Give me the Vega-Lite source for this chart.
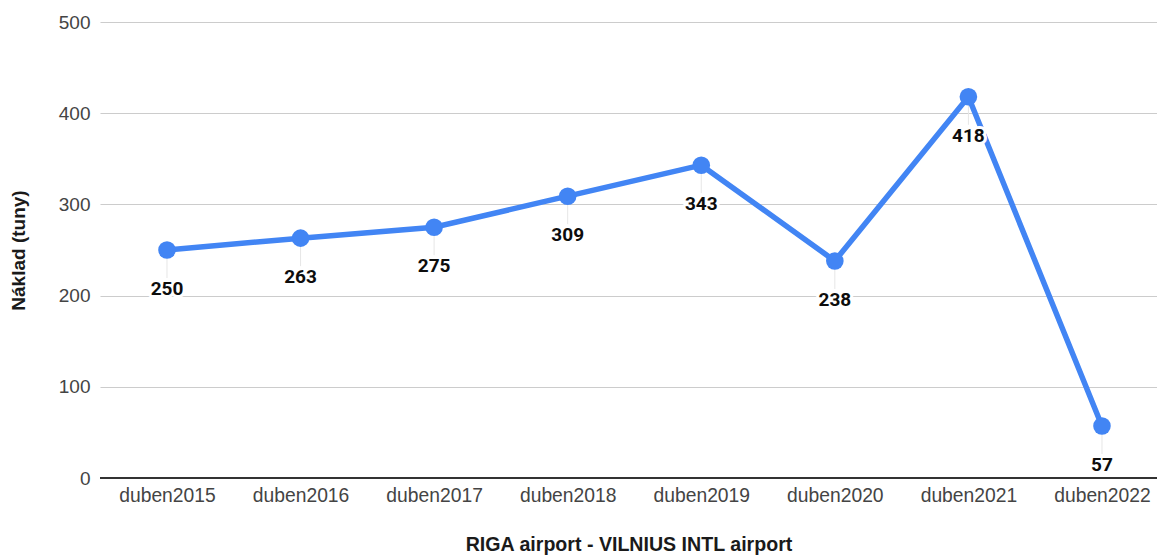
{
  "$schema": "https://vega.github.io/schema/vega-lite/v6.json",
  "width": 1057,
  "height": 456,
  "autosize": {"type": "none"},
  "padding": {"left": 100, "top": 22, "right": 0, "bottom": 78},
  "background": "white",
  "config": {
    "view": {"stroke": null},
    "font": "Liberation Sans"
  },
  "data": {
    "values": [
      {"mesic": "duben2015", "naklad": 250},
      {"mesic": "duben2016", "naklad": 263},
      {"mesic": "duben2017", "naklad": 275},
      {"mesic": "duben2018", "naklad": 309},
      {"mesic": "duben2019", "naklad": 343},
      {"mesic": "duben2020", "naklad": 238},
      {"mesic": "duben2021", "naklad": 418},
      {"mesic": "duben2022", "naklad": 57}
    ]
  },
  "encoding": {
    "x": {
      "field": "mesic",
      "type": "ordinal",
      "sort": null,
      "scale": {"type": "point", "padding": 0.4567, "align": 0.549},
      "axis": {
        "title": "RIGA airport - VILNIUS INTL airport",
        "titleFont": "Liberation Sans",
        "titleFontSize": 19.6,
        "titleFontWeight": "bold",
        "titleColor": "#1a1a1a",
        "titlePadding": 30,
        "labelAngle": 0,
        "labelFont": "Liberation Sans",
        "labelFontSize": 19.3,
        "labelColor": "#444444",
        "labelPadding": 8,
        "ticks": false,
        "domain": false,
        "grid": false
      }
    },
    "y": {
      "field": "naklad",
      "type": "quantitative",
      "scale": {"domain": [0, 500], "nice": false},
      "axis": {
        "title": "Náklad (tuny)",
        "titleFont": "Liberation Sans",
        "titleFontSize": 19,
        "titleFontWeight": "bold",
        "titleColor": "#1a1a1a",
        "titlePadding": 30,
        "values": [0, 100, 200, 300, 400, 500],
        "labelFont": "Liberation Sans",
        "labelFontSize": 19,
        "labelColor": "#444444",
        "labelPadding": 10,
        "ticks": false,
        "domain": false,
        "grid": true,
        "gridColor": "#cccccc",
        "gridWidth": 1.2
      }
    }
  },
  "layer": [
    {
      "mark": {"type": "rule", "color": "#333333", "strokeWidth": 1.5},
      "encoding": {"y": {"datum": 0}, "x": {"value": 0}, "x2": {"value": 1057}}
    },
    {
      "mark": {"type": "rule", "color": "#e6e6e6", "strokeWidth": 1, "y2Offset": 28},
      "encoding": {"y2": {"field": "naklad"}}
    },
    {
      "mark": {"type": "line", "color": "#4285F4", "strokeWidth": 5.5}
    },
    {
      "mark": {"type": "point", "filled": true, "opacity": 1, "color": "#4285F4", "size": 310}
    },
    {
      "mark": {"type": "text", "baseline": "middle", "dy": 39, "fontSize": 19, "fontWeight": "bold", "font": "Roboto", "stroke": "white", "strokeWidth": 6, "strokeJoin": "round", "fill": "white"},
      "encoding": {"text": {"field": "naklad"}}
    },
    {
      "mark": {"type": "text", "baseline": "middle", "dy": 39, "fontSize": 19, "fontWeight": "bold", "font": "Roboto", "color": "#0d0d0d"},
      "encoding": {"text": {"field": "naklad"}}
    }
  ]
}
